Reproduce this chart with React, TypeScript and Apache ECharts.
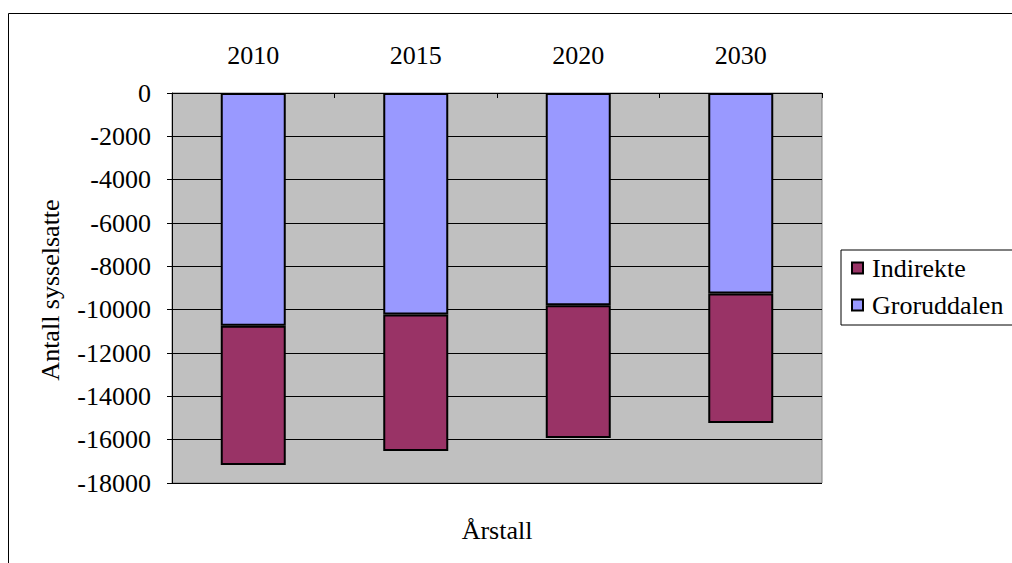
import React, { useEffect, useRef } from "react";
import * as echarts from "echarts";

const years = ["2010", "2015", "2020", "2030"];
const groruddalen = [-10740, -10220, -9800, -9250];
const indirekte = [-6430, -6300, -6120, -5980];
const yTicks = { min: -18000, max: 0, interval: 2000 };

const FONT = "Liberation Serif";
const FS = 26;

export default function App() {
  const ref = useRef<HTMLDivElement>(null);
  useEffect(() => {
    document.body.style.margin = "0";
    const chart = echarts.init(ref.current!, null, { renderer: "svg" });
    chart.setOption({
      animation: false,
      backgroundColor: "#ffffff",
      textStyle: { fontFamily: FONT, color: "#000" },
      grid: {
        left: 172,
        top: 93,
        width: 650,
        height: 390,
        show: true,
        backgroundColor: "#C0C0C0",
        borderColor: "#808080",
        borderWidth: 1,
      },
      graphic: [
        {
          type: "rect",
          shape: { x: 8.5, y: 13.5, width: 1100, height: 700 },
          style: { fill: "none", stroke: "#000", lineWidth: 1 },
          z: 0,
        },
        {
          type: "text",
          x: 50,
          y: 290,
          rotation: Math.PI / 2,
          style: {
            text: "Antall sysselsatte",
            fontFamily: FONT,
            fontSize: FS,
            fill: "#000",
            textAlign: "center",
            textVerticalAlign: "middle",
          },
        },
        {
          type: "text",
          x: 497,
          y: 530,
          style: {
            text: "Årstall",
            fontFamily: FONT,
            fontSize: FS,
            fill: "#000",
            textAlign: "center",
            textVerticalAlign: "middle",
          },
        },
      ],
      legend: {
        orient: "vertical",
        left: 841,
        top: 250,
        data: ["Indirekte", "Groruddalen"],
        icon: "rect",
        itemWidth: 11,
        itemHeight: 11,
        itemGap: 11,
        padding: [5, 40, 7, 10],
        borderColor: "#000",
        borderWidth: 1,
        backgroundColor: "#fff",
        textStyle: { fontFamily: FONT, fontSize: FS, color: "#000", padding: [0, 0, 0, 4] },
      },
      xAxis: {
        type: "category",
        position: "top",
        data: years,
        axisLine: { show: true, lineStyle: { color: "#000", width: 1 } },
        axisTick: { show: true, inside: true, length: 5, lineStyle: { color: "#000" } },
        axisLabel: { fontFamily: FONT, fontSize: FS, color: "#000", margin: 25 },
        splitLine: { show: false },
      },
      yAxis: {
        type: "value",
        min: yTicks.min,
        max: yTicks.max,
        interval: yTicks.interval,
        axisLine: { show: true, lineStyle: { color: "#000", width: 1 } },
        axisTick: { show: true, length: 5, lineStyle: { color: "#000" } },
        axisLabel: {
          fontFamily: FONT,
          fontSize: FS,
          color: "#000",
          margin: 21,
          formatter: (v: number) => String(v),
        },
        splitLine: { show: true, lineStyle: { color: "#000", width: 1 } },
      },
      series: [
        {
          name: "Groruddalen",
          type: "bar",
          stack: "total",
          data: groruddalen,
          barWidth: "40%",
          itemStyle: { color: "#9999FF", borderColor: "#000", borderWidth: 2 },
        },
        {
          name: "Indirekte",
          type: "bar",
          stack: "total",
          data: indirekte,
          barWidth: "40%",
          itemStyle: { color: "#993366", borderColor: "#000", borderWidth: 2 },
        },
      ],
    });
    return () => chart.dispose();
  }, []);
  return (
    <div
      ref={ref}
      style={{ position: "absolute", left: 0, top: 0, width: 1012, height: 563 }}
    />
  );
}
